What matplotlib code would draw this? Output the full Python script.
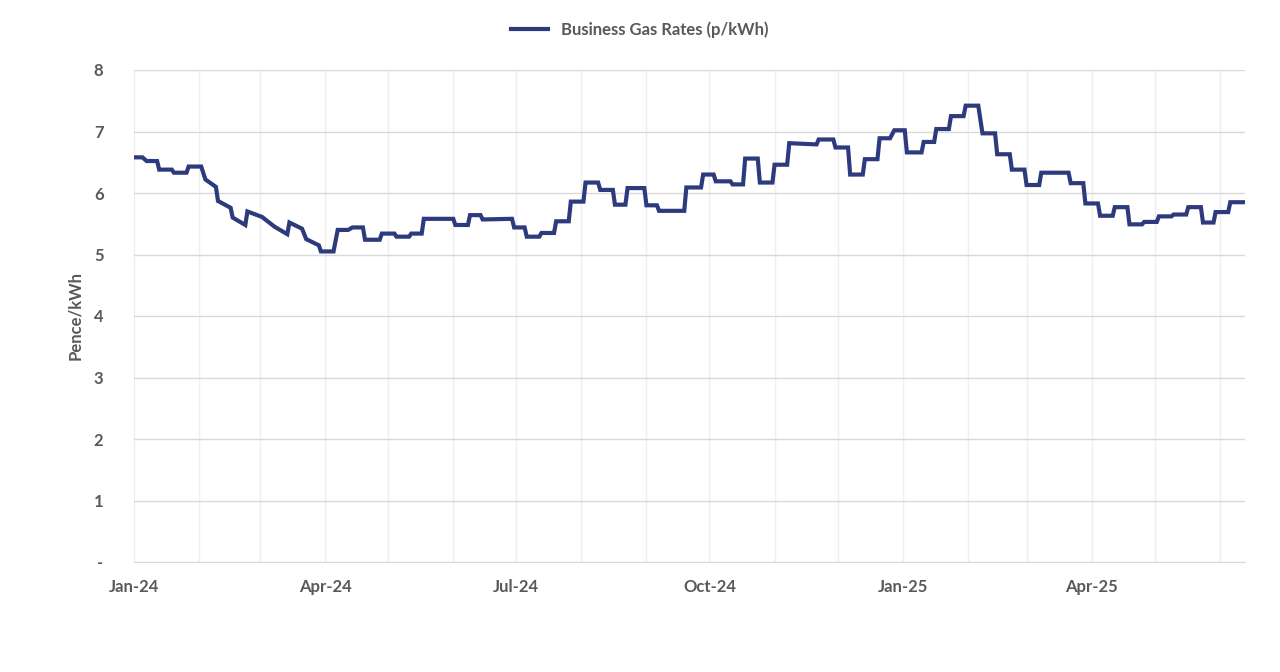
import matplotlib
matplotlib.use("Agg")
import matplotlib.pyplot as plt
import matplotlib.dates as mdates
import datetime as dt

start = dt.date(2024, 1, 1)
days = [0,4,6,11,12,18,19,25,26,32,34,39,40,46,47,53,54,61,67,73,74,80,82,88,89,95,97,102,104,109,110,117,118,124,125,131,132,137,138,152,153,159,160,165,166,180,181,186,187,193,194,200,201,207,208,214,215,221,222,228,229,234,235,243,244,249,250,262,263,270,271,276,277,284,285,290,291,297,298,304,305,311,312,325,326,333,334,340,341,347,348,354,355,360,362,367,368,375,376,381,382,388,389,395,396,402,404,410,411,417,418,424,425,431,432,445,446,452,453,459,460,466,467,473,474,480,481,487,488,494,495,501,502,508,509,514,515,521,522,529]
values = [6.58,6.58,6.52,6.52,6.38,6.38,6.33,6.33,6.43,6.43,6.22,6.10,5.87,5.76,5.60,5.48,5.70,5.61,5.45,5.33,5.52,5.42,5.25,5.15,5.05,5.05,5.40,5.40,5.44,5.44,5.24,5.24,5.34,5.34,5.29,5.29,5.34,5.34,5.58,5.58,5.48,5.48,5.64,5.64,5.57,5.58,5.44,5.44,5.29,5.29,5.35,5.35,5.54,5.54,5.86,5.86,6.17,6.17,6.05,6.05,5.81,5.81,6.08,6.08,5.80,5.80,5.71,5.71,6.09,6.09,6.30,6.30,6.19,6.19,6.14,6.14,6.56,6.56,6.17,6.17,6.46,6.46,6.81,6.79,6.87,6.87,6.74,6.74,6.30,6.30,6.55,6.55,6.89,6.89,7.02,7.02,6.66,6.66,6.83,6.83,7.04,7.04,7.25,7.25,7.42,7.42,6.97,6.97,6.63,6.63,6.38,6.38,6.13,6.13,6.33,6.33,6.16,6.16,5.83,5.83,5.63,5.63,5.77,5.77,5.49,5.49,5.53,5.53,5.62,5.62,5.65,5.65,5.77,5.77,5.52,5.52,5.69,5.69,5.85,5.85]
y_ticks = [0,1,2,3,4,5,6,7,8]
y_labels = ["-","1","2","3","4","5","6","7","8"]
series_name = "Business Gas Rates (p/kWh)"

dates = [start + dt.timedelta(days=d) for d in days]
plt.rcParams["font.family"] = "Lato"
fig = plt.figure(figsize=(12.8, 6.72), dpi=100)
ax = fig.add_axes([134/1280, 1-562/672, (1245-134)/1280, (562-70)/672])
ax.plot(dates, values, color="#2E3A7E", lw=3, label=series_name, solid_joinstyle="miter")
ax.set_xlim(start, start + dt.timedelta(days=529))
ax.set_ylim(0, 8)
ax.set_yticks(y_ticks)
ax.set_yticklabels(y_labels)
ax.xaxis.set_major_locator(mdates.MonthLocator(bymonth=[1,4,7,10]))
ax.xaxis.set_minor_locator(mdates.MonthLocator())
ax.xaxis.set_major_formatter(mdates.DateFormatter("%b-%y"))
ax.grid(True, which="major", axis="y", color="#D9D9D9", lw=1)
ax.grid(True, which="both", axis="x", color="#EFEFEF", lw=1)
ax.set_axisbelow(True)
for s in ["top", "right"]:
    ax.spines[s].set_visible(False)
ax.spines["left"].set_visible(False)
ax.spines["bottom"].set_color("#D9D9D9")
ax.tick_params(axis="both", which="both", length=0, labelcolor="#595959", labelsize=12)
ax.tick_params(axis="x", pad=12)
ax.tick_params(axis="y", pad=22)
for t in ax.get_xticklabels() + ax.get_yticklabels():
    t.set_fontweight("bold")
ax.set_ylabel("Pence/kWh", color="#595959", fontsize=12, fontweight="bold", labelpad=8)
leg = fig.legend(loc="upper center", bbox_to_anchor=(0.5, 0.99), frameon=False, fontsize=12, handlelength=2.2)
for t in leg.get_texts():
    t.set_color("#595959"); t.set_fontweight("bold")
fig.savefig("out.png", dpi=100)
